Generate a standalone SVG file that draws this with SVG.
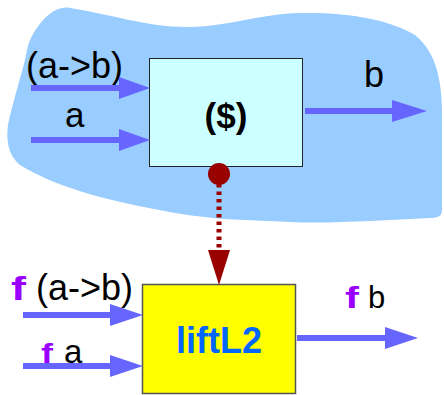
<svg xmlns="http://www.w3.org/2000/svg" width="444" height="395" viewBox="0 0 444 395">
<style>
.t{font-family:"Liberation Sans",Arial,sans-serif;fill:#000}
.b{font-weight:bold}
.f{font-family:"Liberation Sans",Arial,sans-serif;font-weight:bold;fill:#9900ff}
.al{stroke:#6666ff;stroke-width:6;fill:none}
.ah{fill:#6666ff}
</style>
<g id="background">
<path d="M30,40 C40,20 55,5 70,8 C110,14 150,28 190,27 C230,26 260,14 300,13 C350,12 390,20 415,35 C440,55 443,90 442,130 L442,210 C442,216 438,218 430,218 C380,220 330,224 290,222 C250,220 215,220 175,213 C120,203 60,190 20,165 C8,155 6,140 8,125 C12,105 20,80 25,60 C27,50 28,45 30,40 Z" fill="#99ccff"/>
</g>
<g id="apply">
<rect x="149.5" y="58.5" width="153" height="108" fill="#ccffff" stroke="#222" stroke-width="1"/>
<text class="t b" x="226" y="128" font-size="35" text-anchor="middle">($)</text>
</g>
<g id="liftL2">
<rect x="142.5" y="284.5" width="153" height="109" fill="#ffff00" stroke="#555" stroke-width="1.5"/>
<text x="219" y="353" font-size="36" text-anchor="middle" font-family="Liberation Sans, Arial, sans-serif" font-weight="bold" fill="#0066ff">liftL2</text>
</g>
<g id="labels">
<text class="t" x="26" y="78" font-size="36">(a-&gt;b)</text>
<text class="t" x="65" y="127" font-size="35">a</text>
<text class="t" x="364" y="87" font-size="36">b</text>
<text class="f" x="11" y="300" font-size="33" textLength="15" lengthAdjust="spacingAndGlyphs">f</text>
<text class="t" x="36" y="300" font-size="36">(a-&gt;b)</text>
<text class="f" x="41" y="363" font-size="27" textLength="12" lengthAdjust="spacingAndGlyphs">f</text>
<text class="t" x="64" y="363" font-size="33">a</text>
<text class="f" x="345" y="308" font-size="30" textLength="14" lengthAdjust="spacingAndGlyphs">f</text>
<text class="t" x="368" y="308" font-size="31">b</text>
</g>
<g id="connectors">
<line class="al" x1="31" y1="88" x2="121" y2="88"/>
<polygon class="ah" points="119,77 150,88 119,99"/>
<line class="al" x1="31" y1="140" x2="121" y2="140"/>
<polygon class="ah" points="119,129 150,140 119,151"/>
<line class="al" x1="305" y1="111" x2="394" y2="111"/>
<polygon class="ah" points="392,100 427,111 392,122"/>
<line class="al" x1="23" y1="315" x2="112" y2="315"/>
<polygon class="ah" points="110,304 143,315 110,326"/>
<line class="al" x1="23" y1="366" x2="112" y2="366"/>
<polygon class="ah" points="110,355 143,366 110,377"/>
<line class="al" x1="297" y1="338" x2="387" y2="338"/>
<polygon class="ah" points="385,327 418,338 385,349"/>
<circle cx="219" cy="174" r="11" fill="#990000"/>
<line x1="219" y1="184" x2="219" y2="251" stroke="#990000" stroke-width="5" stroke-dasharray="3.5,4"/>
<polygon points="208,250 230,250 219,285" fill="#990000"/>
</g>
</svg>
